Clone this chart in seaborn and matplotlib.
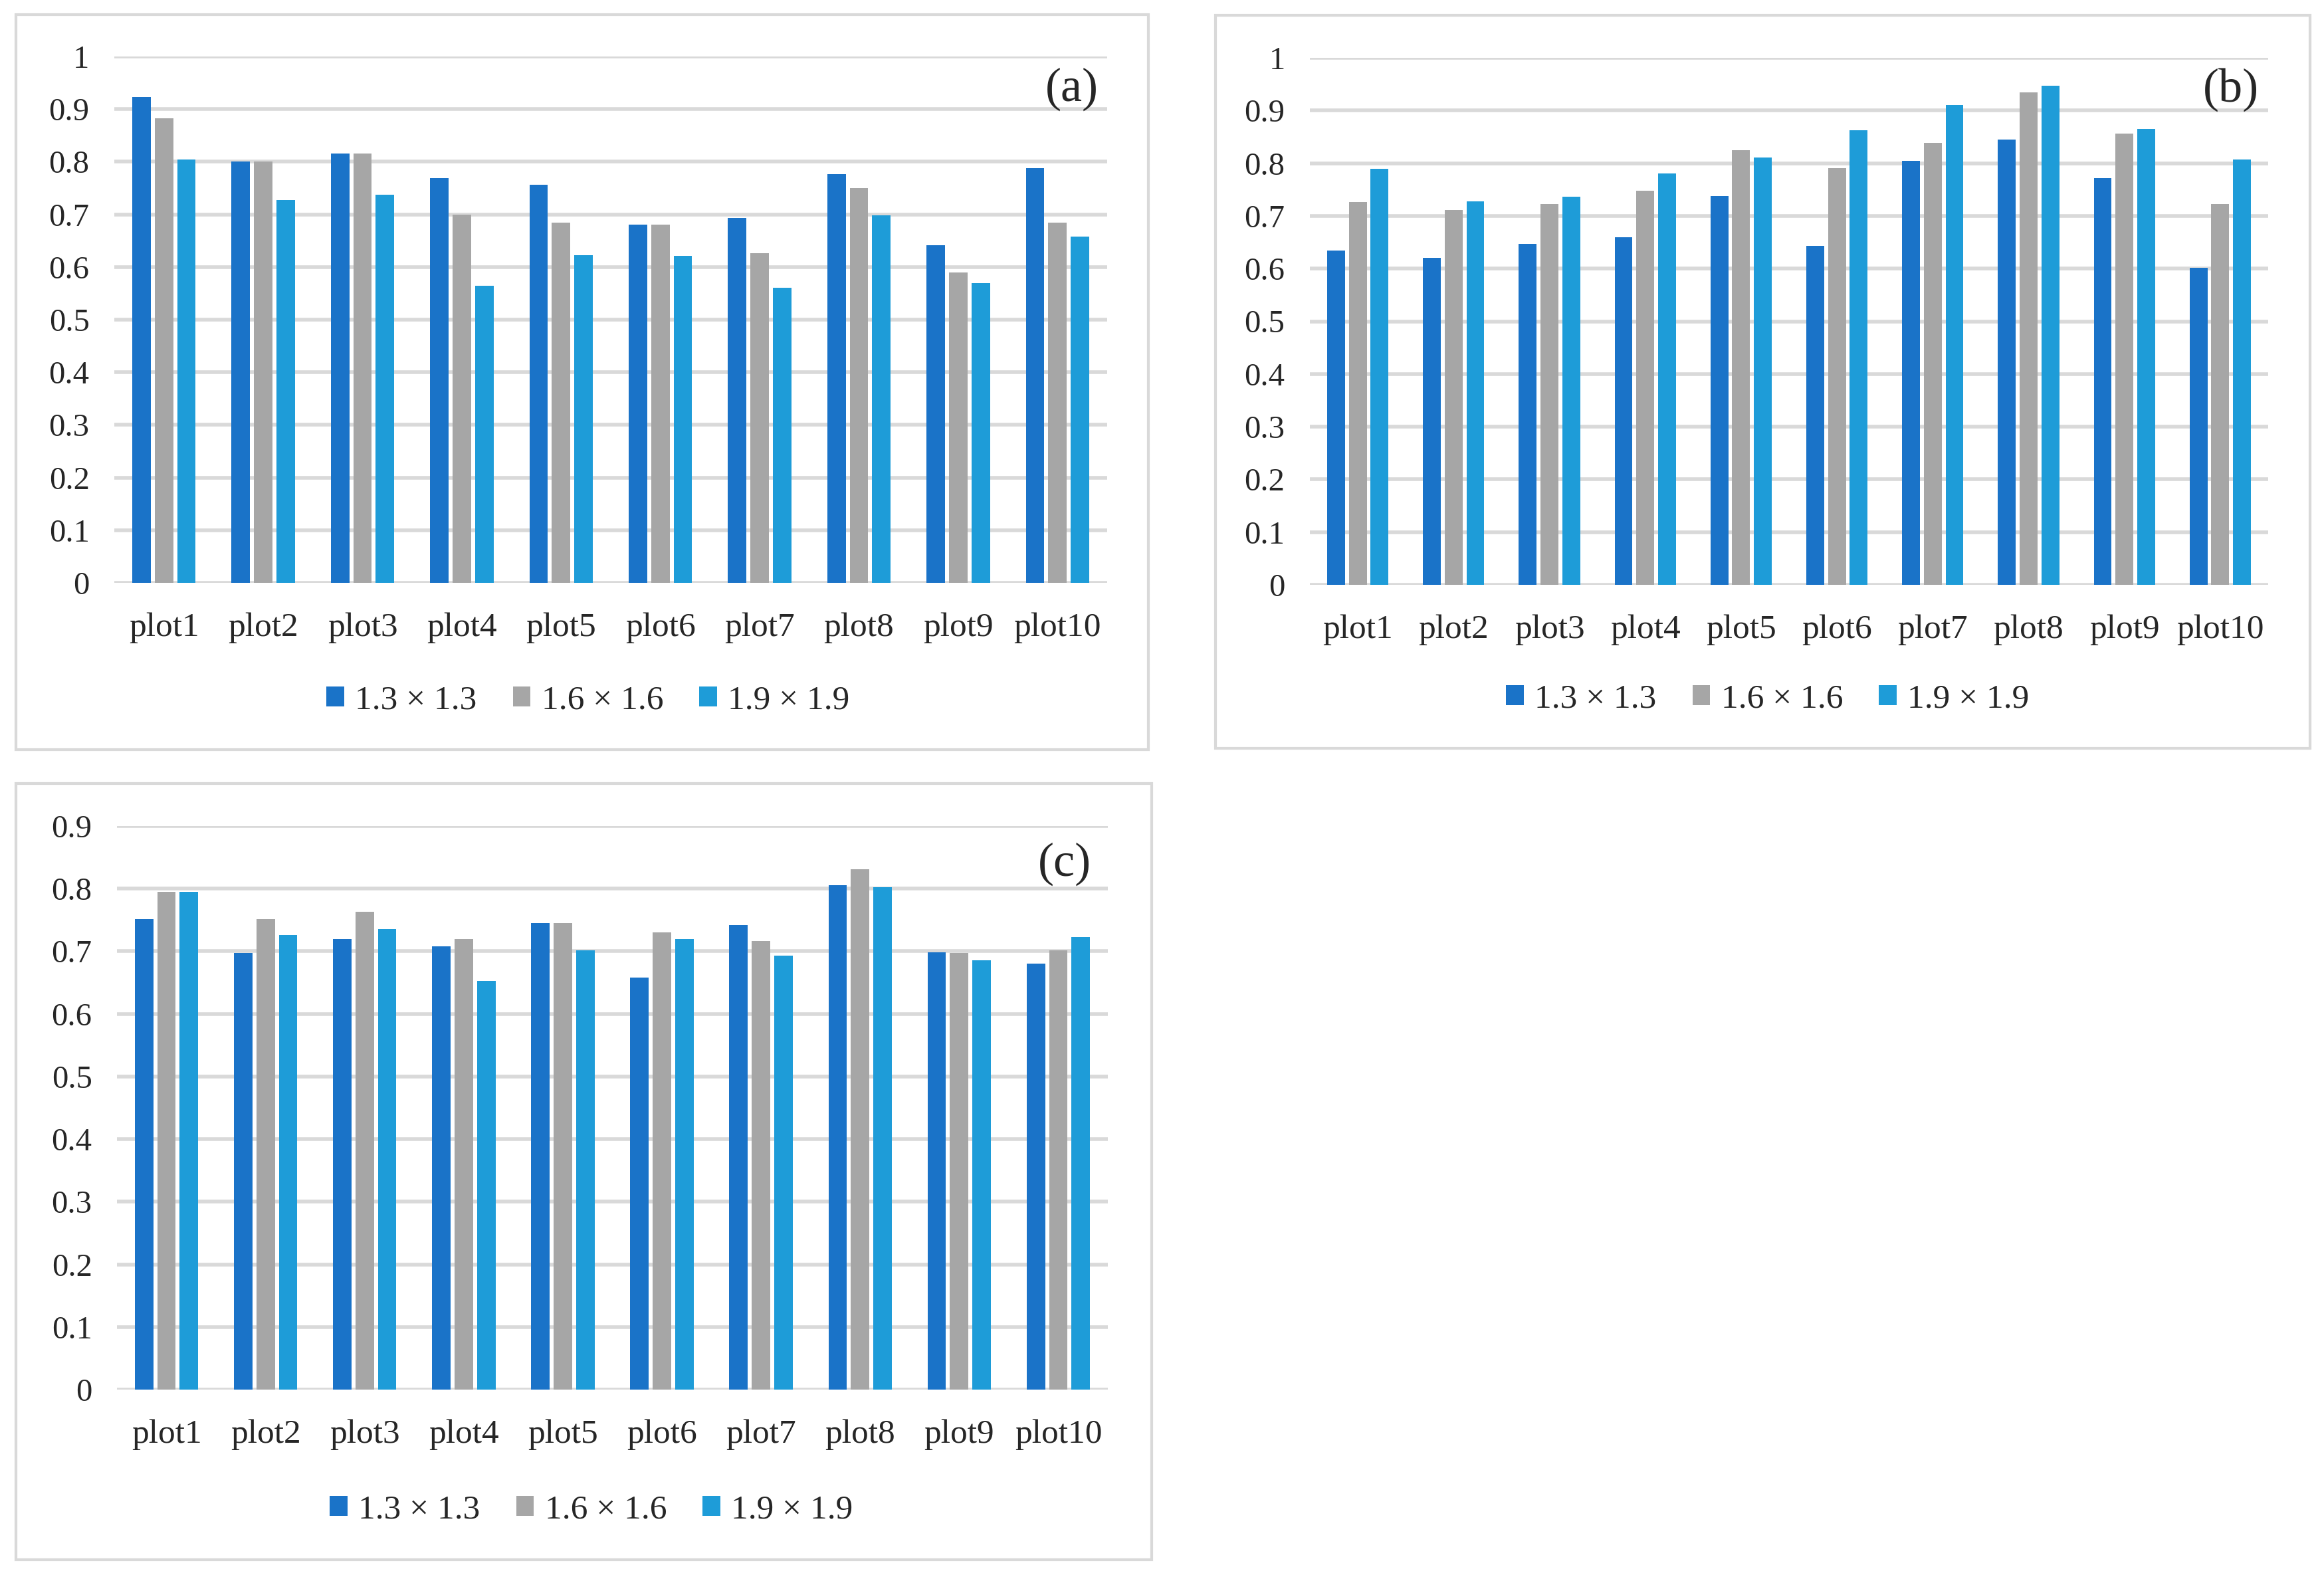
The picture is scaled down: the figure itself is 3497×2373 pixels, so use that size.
"""
plot.py - grouped bar charts (a), (b), (c) for three grid sizes
"""

import pandas as pd
import matplotlib.pyplot as plt
from matplotlib.patches import Rectangle
from matplotlib.ticker import FuncFormatter
import seaborn as sns

PLOTS = ["plot1", "plot2", "plot3", "plot4", "plot5",
         "plot6", "plot7", "plot8", "plot9", "plot10"]
SIZES = ["1.3 × 1.3", "1.6 × 1.6", "1.9 × 1.9"]
COLORS = {"1.3 × 1.3": "#1A73C8", "1.6 × 1.6": "#A6A6A6", "1.9 × 1.9": "#1E9CD8"}

# panel (a)
A_13 = [0.923, 0.800, 0.816, 0.769, 0.756, 0.680, 0.693, 0.776, 0.641, 0.788]
A_16 = [0.882, 0.800, 0.816, 0.699, 0.684, 0.680, 0.626, 0.750, 0.590, 0.684]
A_19 = [0.804, 0.727, 0.737, 0.564, 0.622, 0.621, 0.561, 0.698, 0.570, 0.658]

# panel (b)
B_13 = [0.634, 0.620, 0.647, 0.659, 0.738, 0.643, 0.804, 0.845, 0.772, 0.601]
B_16 = [0.726, 0.711, 0.722, 0.748, 0.825, 0.791, 0.839, 0.934, 0.856, 0.722]
B_19 = [0.789, 0.727, 0.737, 0.780, 0.811, 0.863, 0.911, 0.947, 0.865, 0.807]

# panel (c)
C_13 = [0.751, 0.697, 0.720, 0.708, 0.745, 0.658, 0.742, 0.806, 0.698, 0.680]
C_16 = [0.795, 0.751, 0.763, 0.720, 0.745, 0.730, 0.716, 0.831, 0.697, 0.702]
C_19 = [0.795, 0.726, 0.736, 0.653, 0.702, 0.720, 0.693, 0.802, 0.686, 0.723]

Y_TICKS_AB = [0, 0.1, 0.2, 0.3, 0.4, 0.5, 0.6, 0.7, 0.8, 0.9, 1.0]
Y_TICKS_C = [0, 0.1, 0.2, 0.3, 0.4, 0.5, 0.6, 0.7, 0.8, 0.9]

sns.set_style("white")
plt.rcParams["font.family"] = ["Liberation Serif", "DejaVu Serif"]

W, H = 3497, 2373
FS = 37
GRID = "#D9D9D9"


def to_long(s13, s16, s19):
    frames = []
    for name, vals in zip(SIZES, [s13, s16, s19]):
        frames.append(pd.DataFrame({"plot": PLOTS, "size": name, "value": vals}))
    return pd.concat(frames, ignore_index=True)


def draw_panel(fig, box, axrect, df, yticks, tag, tagpos, legpos):
    # light grey frame around the panel
    x0, y0, x1, y1 = box
    fig.add_artist(Rectangle((x0 / W, 1 - y1 / H), (x1 - x0) / W, (y1 - y0) / H,
                             transform=fig.transFigure, fill=False,
                             edgecolor=GRID, linewidth=3))
    l, t, r, b = axrect
    ax = fig.add_axes([l / W, 1 - b / H, (r - l) / W, (b - t) / H])
    sns.barplot(data=df, x="plot", y="value", hue="size", order=PLOTS,
                hue_order=SIZES, palette=COLORS, saturation=1,
                width=0.68, gap=0.18, linewidth=0, ax=ax, zorder=3)
    ax.set_ylim(0, yticks[-1])
    ax.set_yticks(yticks)
    ax.yaxis.set_major_formatter(FuncFormatter(lambda v, p: f"{v:g}"))
    ax.grid(axis="y", color=GRID, linewidth=4, zorder=0)
    ax.grid(axis="x", visible=False)
    ax.set_axisbelow(True)
    for s in ax.spines.values():
        s.set_visible(False)
    ax.set_xlabel("")
    ax.set_ylabel("")
    ax.set_xlim(-0.5, len(PLOTS) - 0.5)
    ax.tick_params(axis="y", length=0, pad=27, labelsize=35)
    ax.tick_params(axis="x", length=0, pad=32, labelsize=FS)
    ax.text(tagpos[0], tagpos[1], tag, transform=ax.transAxes,
            ha="right", va="center", fontsize=52)

    handles, labels = ax.get_legend_handles_labels()
    ax.legend(handles, labels, loc="center", ncol=3, frameon=False,
              bbox_to_anchor=(legpos[0] / W, 1 - legpos[1] / H),
              bbox_transform=fig.transFigure, fontsize=FS,
              handlelength=0.52, handleheight=0.52, handletextpad=0.32,
              columnspacing=1.05)
    return ax


fig = plt.figure(figsize=(W / 100, H / 100), dpi=100)

draw_panel(fig, (24, 22, 1728, 1128), (172, 85, 1666, 877),
           to_long(A_13, A_16, A_19), Y_TICKS_AB, "(a)", (0.991, 0.938),
           (885, 1054))
draw_panel(fig, (1829, 23, 3476, 1126), (1971, 87, 3413, 880),
           to_long(B_13, B_16, B_19), Y_TICKS_AB, "(b)", (0.990, 0.940),
           (2660, 1052))
draw_panel(fig, (24, 1179, 1733, 2347), (176, 1243, 1667, 2091),
           to_long(C_13, C_16, C_19), Y_TICKS_C, "(c)", (0.983, 0.932),
           (890, 2272))

plt.savefig("out.png", dpi=100, facecolor="white")
plt.close()
